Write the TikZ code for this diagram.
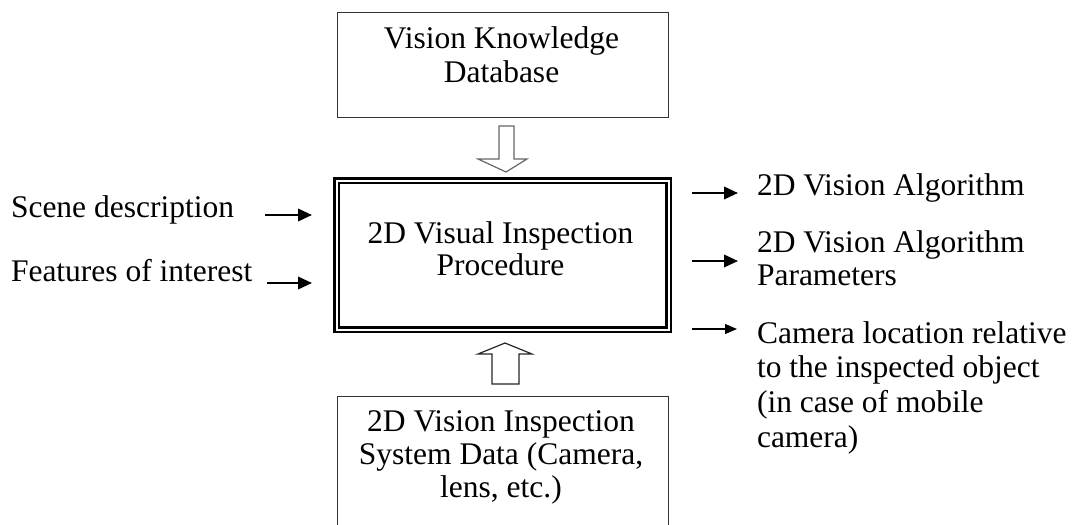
\documentclass[tikz,border=0pt]{standalone}
\usepackage{fontspec}
\setmainfont{Liberation Serif}
\usetikzlibrary{arrows.meta}
\begin{document}
\begin{tikzpicture}[x=0.5pt,y=-0.5pt,
  font=\fontsize{15.75}{17}\selectfont,
  every node/.style={inner sep=0pt, outer sep=0pt},
  plainbox/.style={draw=black!80, line width=0.5pt},
  mainbox/.style={draw=black, line width=1.25pt, double=white, double distance=1pt},
  txt/.style={align=center, anchor=north},
  sidetxt/.style={align=left, anchor=north west},
  flowarrow/.style={line width=1.2pt, -{Triangle[length=7pt,width=6.2pt]}},
  thinarrow/.style={line width=0.6pt, -{Triangle[length=6pt,width=5pt]}},
  hollow/.style={line width=0.6pt, fill=white, line join=miter}
]
\useasboundingbox (0,0) rectangle (1074,524);
\clip (0,0) rectangle (1074,524);

% knowledge database box
\node[plainbox, minimum width=165.5pt, minimum height=52pt] (kb) at (502.5,65) {};
\node[txt, font=\fontsize{15.75}{17}\selectfont] (kbt) at (501.5,26.5) {Vision Knowledge\\Database};

% central procedure box with double frame
\node[mainbox, minimum width=166pt, minimum height=74.5pt] (proc) at (502.5,255) {};
\node[txt, font=\fontsize{15.75}{16}\selectfont] (proct) at (500.5,221.5) {2D Visual Inspection\\Procedure};

% system data box (runs past the lower edge)
\node[plainbox, minimum width=165.5pt, minimum height=82pt] (sys) at (502.5,478) {};
\node[txt, font=\fontsize{15.75}{16.5}\selectfont] (syst) at (501,410.5) {2D Vision Inspection\\System Data (Camera,\\lens, etc.)};

% hollow block arrows
\draw[hollow, draw=black!60] (499,126) -- (514,126) -- (514,159) -- (527,159)
  -- (506,172) -- (478,159) -- (499,159) -- cycle;
\draw[hollow, draw=black!85] (492,384) -- (519,384) -- (519,354) -- (532,354)
  -- (505,343) -- (478,354) -- (492,354) -- cycle;

% inputs
\node[anchor=base west] (scene) at (11,217) {Scene description};
\node[anchor=base west] (feat) at (11,281) {Features of interest};
\coordinate (sceneA) at (265,215);
\coordinate (sceneB) at (312,215);
\coordinate (featA) at (267,283);
\coordinate (featB) at (312,283);
\draw[flowarrow] (sceneA) -- (sceneB);
\draw[flowarrow] (featA) -- (featB);

% outputs
\node[anchor=base west] (algo) at (757,195) {2D Vision Algorithm};
\node[sidetxt, font=\fontsize{15.75}{16.5}\selectfont] (param) at (757,230.5) {2D Vision Algorithm\\Parameters};
\node[sidetxt, font=\fontsize{15.75}{17.3}\selectfont] (cam) at (757,321.5) {Camera location relative\\to the inspected object\\(in case of mobile\\camera)};
\coordinate (algoA) at (692,193);
\coordinate (algoB) at (738,193);
\coordinate (paramA) at (692,261);
\coordinate (paramB) at (738,261);
\coordinate (camA) at (692,329);
\coordinate (camB) at (737,329);
\draw[flowarrow] (algoA) -- (algoB);
\draw[flowarrow] (paramA) -- (paramB);
\draw[thinarrow] (camA) -- (camB);
\end{tikzpicture}
\end{document}
